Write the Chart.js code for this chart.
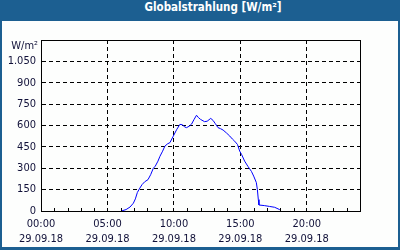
<!DOCTYPE html>
<html>
<head>
<meta charset="utf-8">
<script src="https://cdn.jsdelivr.net/npm/chart.js@4"></script>
<style>
  html, body { margin: 0; padding: 0; background: #fff; }
  #frame { position: relative; width: 400px; height: 250px; background: #1c5f91; overflow: hidden; }
  #panel { position: absolute; left: 2px; top: 21px; width: 396px; height: 226px; background: #fdfefd; }
  #title { position: absolute; left: 0; top: 0; width: 426px; height: 21px; line-height: 20px; text-align: center;
           color: #fff; font: bold 11.5px "DejaVu Sans Condensed", "DejaVu Sans", sans-serif; }
  #chart { position: absolute; left: 0; top: 0; }
</style>
</head>
<body>
<div id="frame">
  <div id="panel"></div>
  <div id="title">Globalstrahlung [W/m²]</div>
  <canvas id="chart" width="400" height="250"></canvas>
</div>
<script>
// ---- data ----
const hours = [6.05, 6.4, 6.7, 6.95, 7.1, 7.25, 7.4, 7.6, 7.8, 8.05, 8.25, 8.45, 8.6, 8.8, 8.95, 9.15, 9.32, 9.5, 9.7, 9.95,
  10.2, 10.45, 10.65, 10.8, 10.95, 11.15, 11.33, 11.5, 11.7, 11.85, 12.0, 12.3, 12.5, 12.77, 12.95, 13.1, 13.32, 13.5, 13.7, 13.95,
  14.2, 14.4, 14.57, 14.78, 14.95, 15.1, 15.32, 15.57, 15.83, 16.0, 16.2, 16.28, 16.35, 16.4, 16.8, 17.2, 17.58, 17.95, 18.05];
const irradiance = [0, 10, 28, 55, 85, 130, 155, 185, 205, 220, 255, 300, 315, 350, 384, 420, 455, 470, 480, 525,
  570, 608, 605, 590, 585, 595, 610, 640, 672, 655, 643, 627, 630, 650, 635, 615, 585, 578, 568, 548,
  526, 505, 490, 467, 420, 395, 350, 313, 278, 245, 200, 150, 80, 42, 38, 32, 26, 10, 0];
const timeLabels = ['00:00', '05:00', '10:00', '15:00', '20:00'];
const dateLabel = '29.09.18';
const unitLabel = 'W/m²';
const yMax = 1200, yStep = 150, xMax = 24;

const points = hours.map((h, i) => ({ x: h, y: irradiance[i] }));
const FONT = '"DejaVu Sans Condensed", "DejaVu Sans", sans-serif';
const TXT = '#101038';

const framePlugin = {
  id: 'frameExtras',
  afterDraw(chart) {
    const { ctx, chartArea: a, scales } = chart;
    ctx.save();
    // minor ticks every hour along the bottom
    ctx.strokeStyle = '#000';
    ctx.lineWidth = 1;
    ctx.beginPath();
    for (let h = 1; h < xMax; h++) {
      if (h % 5 === 0) continue;
      const px = Math.round(scales.x.getPixelForValue(h)) + 0.5;
      ctx.moveTo(px, a.bottom);
      ctx.lineTo(px, a.bottom - 3);
    }
    ctx.stroke();
    // plot border
    ctx.strokeRect(Math.round(a.left) + 0.5, Math.round(a.top) + 0.5,
                   Math.round(a.right) - Math.round(a.left), Math.round(a.bottom) - Math.round(a.top));
    // unit label
    ctx.fillStyle = TXT;
    ctx.font = '11px ' + FONT;
    ctx.textAlign = 'right';
    ctx.textBaseline = 'middle';
    ctx.fillText(unitLabel, a.left - 3, a.top + 6);
    ctx.restore();
  }
};

new Chart(document.getElementById('chart'), {
  type: 'line',
  data: {
    datasets: [{
      data: points,
      borderColor: '#0000ff',
      borderWidth: 1,
      pointRadius: 0,
      tension: 0,
      fill: false
    }]
  },
  options: {
    responsive: false,
    animation: false,
    layout: { padding: { left: 0, right: 40, top: 40, bottom: 0 } },
    plugins: { legend: { display: false }, tooltip: { enabled: false }, title: { display: false } },
    scales: {
      x: {
        type: 'linear',
        min: 0, max: xMax,
        afterFit(s) { s.height = 39; },
        grid: {
          drawTicks: false,
          color: c => (c.tick && c.tick.value % 5 === 0 && c.tick.value > 0 && c.tick.value < xMax) ? '#000' : 'rgba(0,0,0,0)',
          lineWidth: 1
        },
        border: { display: true, color: '#000', width: 1, dash: [4, 3] },
        ticks: {
          stepSize: 1,
          autoSkip: false,
          maxRotation: 0,
          padding: 6,
          color: TXT,
          font: { family: FONT, size: 11, lineHeight: 1.36 },
          callback: v => (v % 5 === 0 && v < xMax) ? [timeLabels[v / 5], dateLabel] : ''
        }
      },
      y: {
        min: 0, max: yMax,
        afterFit(s) { s.width = 41; },
        grid: {
          drawTicks: false,
          color: c => (c.tick && c.tick.value > 0 && c.tick.value < yMax) ? '#000' : 'rgba(0,0,0,0)',
          lineWidth: 1
        },
        border: { color: '#000', dash: [4, 3] },
        ticks: {
          stepSize: yStep,
          padding: 5,
          color: TXT,
          font: { family: FONT, size: 11 },
          callback: v => v >= yMax ? '' : v.toLocaleString('de-DE')
        }
      }
    }
  },
  plugins: [framePlugin]
});
</script>
</body>
</html>
